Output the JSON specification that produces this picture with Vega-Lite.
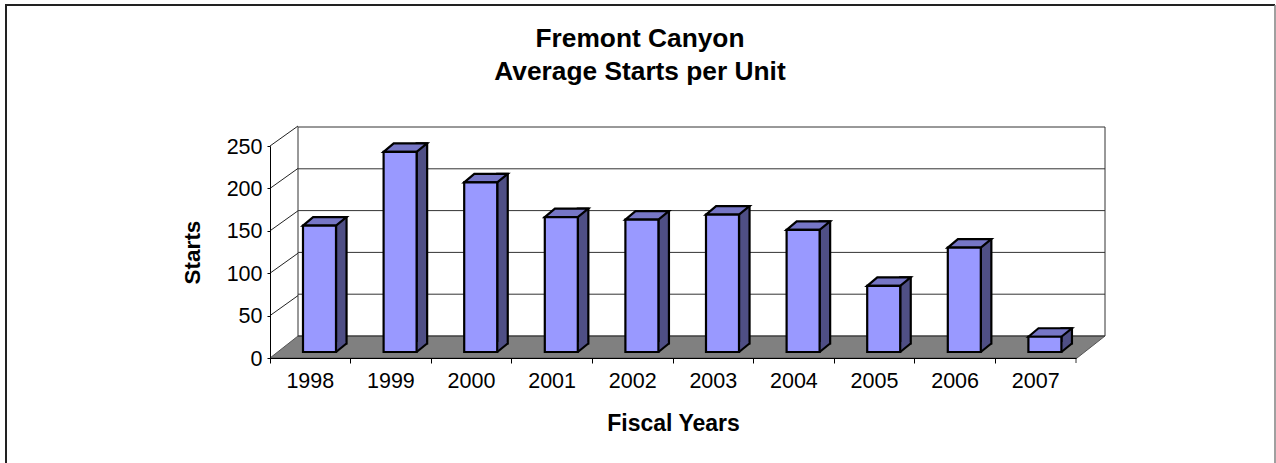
{
"$schema":"https://vega.github.io/schema/vega-lite/v6.json",
"width":806,"height":212,
"autosize":{"type":"none"},
"padding":{"left":270,"top":146,"right":200,"bottom":105},
"background":"white",
"config":{"view":{"stroke":null},"font":"Liberation Sans"},
"title":{"text":["Fremont Canyon","Average Starts per Unit"],"font":"Liberation Sans","fontSize":26.3,"fontWeight":"bold","lineHeight":33,"color":"#000","anchor":"middle","dx":-33,"offset":-84},
"datasets":{"bars":[
{"year":"1998","value":149},{"year":"1999","value":236},{"year":"2000","value":200},{"year":"2001","value":159},{"year":"2002","value":156},{"year":"2003","value":162},{"year":"2004","value":144},{"year":"2005","value":78},{"year":"2006","value":123},{"year":"2007","value":18}],
"ticks":[{"year":"1998","value":0},{"year":"1998","value":50},{"year":"1998","value":100},{"year":"1998","value":150},{"year":"1998","value":200},{"year":"1998","value":250}],
"anchor":[{"year":"1998","value":0}]},
"resolve":{"scale":{"y":"independent"}},
"layer":[
{"data":{"name":"anchor"},
 "mark":{"type":"point","size":4,"opacity":1,"filled":true,"fill":"#808080","stroke":"#555","strokeWidth":1,"shape":"M0 0L28 -22H835L807 0Z"},
 "encoding":{
  "x":{"field":"year","type":"ordinal","bandPosition":0,"scale":{"type":"band","domain":["1998","1999","2000","2001","2002","2003","2004","2005","2006","2007"],"paddingInner":0,"paddingOuter":0},
   "axis":{"title":"Fiscal Years","titleFont":"Liberation Sans","titleFontSize":23,"titleFontWeight":"bold","titleColor":"#000","titlePadding":21,"labelFont":"Liberation Sans","labelFontSize":21.5,"labelColor":"#000","labelAngle":0,"labelPadding":7,"tickColor":"#000","tickSize":5,"domainColor":"#000","bandPosition":0,"zindex":1,"grid":false}},
  "y":{"field":"value","type":"quantitative","scale":{"domain":[0,250],"nice":false},
   "axis":{"title":"Starts","orient":"left","values":[0,50,100,150,200,250],"titleFont":"Liberation Sans","titleFontSize":22.5,"titleFontWeight":"bold","titleColor":"#000","titlePadding":22,"labelFont":"Liberation Sans","labelFontSize":21.5,"labelColor":"#000","labelPadding":5,"labelOffset":1,"tickColor":"#000","tickSize":3,"domainColor":"#000","zindex":1,"grid":false}}}},
{"data":{"name":"anchor"},
 "mark":{"type":"point","size":4,"opacity":1,"filled":false,"stroke":"#333","strokeWidth":1,"shape":"M28 -22V-231M835 -22V-231M806 0V5"},
 "encoding":{
  "x":{"field":"year","type":"ordinal","bandPosition":0},
  "y":{"field":"value","type":"quantitative","scale":{"domain":[0,250],"nice":false},"axis":null}}},
{"data":{"name":"anchor"},
 "mark":{"type":"point","size":4,"opacity":1,"filled":false,"stroke":"#222","strokeWidth":2,"shape":"M-264 112V-353H1005"},
 "encoding":{
  "x":{"field":"year","type":"ordinal","bandPosition":0},
  "y":{"field":"value","type":"quantitative","scale":{"domain":[0,250],"nice":false},"axis":null}}},
{"data":{"name":"anchor"},
 "mark":{"type":"point","size":4,"opacity":1,"filled":false,"stroke":"#808080","strokeWidth":1.5,"shape":"M1005 -353V112"},
 "encoding":{
  "x":{"field":"year","type":"ordinal","bandPosition":0},
  "y":{"field":"value","type":"quantitative","scale":{"domain":[0,250],"nice":false},"axis":null}}},
{"data":{"name":"ticks"},
 "mark":{"type":"point","size":4,"opacity":1,"filled":false,"stroke":"#333","strokeWidth":1,"shape":"M28 0H835"},
 "encoding":{
  "x":{"field":"year","type":"ordinal","bandPosition":0},
  "y":{"field":"value","type":"quantitative","scale":{"domain":[0,250],"nice":false,"range":[190,-19]},"axis":null}}},
{"layer":[
 {"data":{"name":"ticks"},
  "transform":[{"filter":"datum.value>0"}],
  "mark":{"type":"point","size":4,"opacity":1,"filled":false,"stroke":"#222","strokeWidth":1,"shape":"M0 0L28 -20"},
  "encoding":{
   "x":{"field":"year","type":"ordinal","bandPosition":0},
   "y":{"field":"value","type":"quantitative","scale":{"domain":[0,250],"nice":false},"axis":null}}},
 {"data":{"name":"bars"},
  "mark":{"type":"bar","width":10.5,"xOffset":31,"yOffset":-14.5,"y2Offset":-14.5,"fill":"#4f4f85","stroke":"#000","strokeWidth":2.2},
  "encoding":{"x":{"field":"year","type":"ordinal"},"y":{"field":"value","type":"quantitative","stack":null,"axis":null},"y2":{"datum":0}}},
 {"data":{"name":"bars"},
  "mark":{"type":"point","size":4,"opacity":1,"filled":true,"fill":"#4f4f85","stroke":null,"shape":"M35.2 -16H25.7V-6L35.2 -13.7Z"},
  "encoding":{"x":{"field":"year","type":"ordinal"},"y":{"datum":0,"type":"quantitative","axis":null}}},
 {"data":{"name":"bars"},
  "mark":{"type":"point","size":4,"opacity":1,"filled":false,"stroke":"#000","strokeWidth":2.2,"shape":"M36.2 -14.5L25.7 -6"},
  "encoding":{"x":{"field":"year","type":"ordinal"},"y":{"datum":0,"type":"quantitative","axis":null}}},
 {"data":{"name":"bars"},
  "mark":{"type":"point","size":4,"opacity":1,"filled":true,"fill":"#7676c6","stroke":"#000","strokeWidth":2.2,"shape":"M-7.3 -6L2.8 -14.5H36.2L25.7 -6Z"},
  "encoding":{"x":{"field":"year","type":"ordinal"},"y":{"field":"value","type":"quantitative","axis":null}}},
 {"data":{"name":"bars"},
  "mark":{"type":"bar","width":33,"xOffset":9.2,"yOffset":-6,"y2Offset":-6,"fill":"#9999ff","stroke":"#000","strokeWidth":2.2},
  "encoding":{"x":{"field":"year","type":"ordinal"},"y":{"field":"value","type":"quantitative","stack":null,"axis":null},"y2":{"datum":0}}}
]}
]
}
